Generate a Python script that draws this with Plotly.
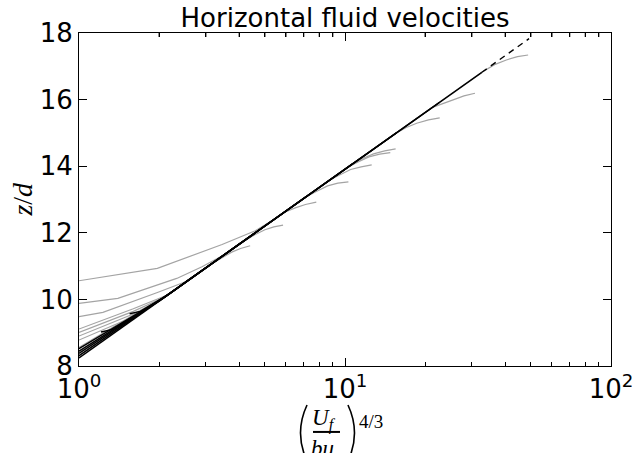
import math
import plotly.graph_objects as go

# ---------------- data ----------------
title_text = "Horizontal fluid velocities"
x_tick_vals = [1, 10, 100]
x_tick_text = ["10<sup>0</sup>", "10<sup>1</sup>", "10<sup>2</sup>"]
x_minor_vals = [2, 3, 4, 5, 6, 7, 8, 9, 20, 30, 40, 50, 60, 70, 80, 90]
y_tick_vals = [8, 10, 12, 14, 16, 18]
y_tick_text = ["8", "10", "12", "14", "16", "18"]

# grey: measured profiles (x = (Uf/(b u_tau))^(4/3), z/d)
grey_a_x = [1, 1.97, 3.45, 4.6, 5.4, 5.9, 6.5, 7.1, 7.8]
grey_a_z = [10.56, 10.93, 11.65, 12.06, 12.40, 12.61, 12.75, 12.85, 12.92]
grey_b_x = [1, 1.4, 2.33, 2.9, 3.5, 4.1, 4.6, 5.0, 5.4, 5.85]
grey_b_z = [9.88, 10.03, 10.63, 10.98, 11.33, 11.72, 11.95, 12.09, 12.18, 12.23]
grey_c_x = [1, 1.23, 1.96, 2.5, 3.1, 3.45, 3.75, 4.05, 4.4]
grey_c_z = [9.48, 9.61, 10.2, 10.52, 11.03, 11.26, 11.42, 11.53, 11.61]
grey_d_x = [1, 1.6, 2.15, 7.1, 7.8, 8.6, 9.4, 10.3]
grey_d_z = [9.11, 9.72, 10.13, 13.07, 13.24, 13.41, 13.49, 13.53]
grey_e_x = [1, 1.6, 2.1, 8.7, 9.5, 10.5, 11.5, 12.6]
grey_e_z = [9.01, 9.64, 10.07, 13.57, 13.73, 13.90, 13.98, 14.04]
grey_f_x = [1, 1.6, 2.05, 10.2, 11.2, 12.3, 13.5, 14.8]
grey_f_z = [8.90, 9.56, 10.01, 13.96, 14.13, 14.28, 14.36, 14.41]
grey_g_x = [1, 1.6, 2.0, 10.7, 11.7, 12.8, 14.1, 15.5]
grey_g_z = [8.78, 9.48, 9.95, 14.08, 14.24, 14.37, 14.46, 14.52]
grey_h_x = [1, 2.2, 15.6, 17.0, 18.6, 20.6, 22.7]
grey_h_z = [8.56, 10.19, 15.0, 15.16, 15.29, 15.39, 15.45]
grey_i_x = [1, 2.2, 21.2, 23.3, 25.5, 28.0, 30.8]
grey_i_z = [8.42, 10.19, 15.76, 15.89, 15.99, 16.11, 16.19]
grey_j_x = [1, 2.2, 32.7, 36.5, 40.4, 44.5, 48.8]
grey_j_z = [8.30, 10.19, 16.82, 17.05, 17.19, 17.29, 17.34]

# black: model lines
black_1_x = [1, 32.7]
black_1_z = [8.24, 16.82]
black_2_x = [1, 2.2, 22.7]
black_2_z = [8.31, 10.19, 15.92]
black_3_x = [1, 2.2, 15.6]
black_3_z = [8.38, 10.19, 15.0]
black_4_x = [1, 2.1, 10.7]
black_4_z = [8.45, 10.07, 14.08]
black_5_x = [1, 2.1, 7.1]
black_5_z = [8.52, 10.07, 13.07]
black_6_x = [1.21, 1.34, 2.0, 4.1]
black_6_z = [9.02, 9.10, 9.95, 11.72]
black_7_x = [1.55, 1.70, 2.15, 3.1]
black_7_z = [9.57, 9.64, 10.13, 11.03]
# dashed extrapolation
dash_x = [32.7, 49.2]
dash_z = [16.82, 17.83]

grey_series = [
    (grey_a_x, grey_a_z), (grey_b_x, grey_b_z), (grey_c_x, grey_c_z),
    (grey_d_x, grey_d_z), (grey_e_x, grey_e_z), (grey_f_x, grey_f_z),
    (grey_g_x, grey_g_z), (grey_h_x, grey_h_z), (grey_i_x, grey_i_z),
    (grey_j_x, grey_j_z),
]
black_series = [
    (black_1_x, black_1_z), (black_2_x, black_2_z), (black_3_x, black_3_z),
    (black_4_x, black_4_z), (black_5_x, black_5_z), (black_6_x, black_6_z),
    (black_7_x, black_7_z),
]

# ---------------- figure ----------------
fig = go.Figure()
for gx, gz in grey_series:
    fig.add_trace(go.Scatter(x=gx, y=gz, mode="lines",
                             line=dict(color="#a4a4a4", width=1.2),
                             showlegend=False, hoverinfo="skip"))
for bx, bz in black_series:
    fig.add_trace(go.Scatter(x=bx, y=bz, mode="lines",
                             line=dict(color="black", width=1.5),
                             showlegend=False, hoverinfo="skip"))
fig.add_trace(go.Scatter(x=dash_x, y=dash_z, mode="lines",
                         line=dict(color="black", width=1.4, dash="6px,5px"),
                         showlegend=False, hoverinfo="skip"))

X_RANGE = [0, 2]
tick_font = dict(family="DejaVu Sans", size=26, color="black")
fig.update_layout(
    width=632, height=453, autosize=False,
    margin=dict(l=79, r=21, t=33, b=87, pad=0, autoexpand=False),
    paper_bgcolor="white", plot_bgcolor="white",
    title=dict(text=title_text, x=0.5, xref="paper", xanchor="center",
               y=1 - 18 / 453, yref="container", yanchor="middle",
               font=dict(family="DejaVu Sans", size=26, color="black")),
    xaxis=dict(type="log", range=X_RANGE, tickvals=x_tick_vals, ticktext=x_tick_text,
               tickfont=tick_font, ticklabeloverflow="allow",
               ticks="inside", ticklen=8, tickwidth=1, tickcolor="black",
               showline=True, linecolor="black", linewidth=1, mirror="allticks",
               showgrid=False, zeroline=False,
               minor=dict(ticks="inside", ticklen=4, tickwidth=1, tickcolor="black",
                          dtick="D1", showgrid=False)),
    yaxis=dict(range=[8, 18], tickvals=y_tick_vals, ticktext=y_tick_text,
               tickfont=tick_font, ticks="inside", ticklen=8, tickwidth=1,
               tickcolor="black", showline=True, linecolor="black", linewidth=1,
               mirror="allticks", showgrid=False, zeroline=False),
)

# mirrored minor ticks on the top frame (plotly does not mirror minor ticks)
plot_h = 453 - 33 - 87
for v in x_minor_vals:
    xp = (math.log10(v) - X_RANGE[0]) / (X_RANGE[1] - X_RANGE[0])
    fig.add_shape(type="line", xref="paper", yref="paper", x0=xp, x1=xp,
                  y0=1, y1=1 - 4 / plot_h, line=dict(color="black", width=1))

# y label
fig.add_annotation(text="<i>z</i>/<i>d</i>", xref="paper", yref="paper",
                   x=-0.107, y=0.5, textangle=-90, showarrow=False,
                   xanchor="center", yanchor="middle",
                   font=dict(family="Liberation Serif", size=28, color="black"))

# x label: (U_f / (b u_tau))^(4/3)
serif = "Liberation Serif"
fig.add_annotation(text="<i>U</i><sub><i>f</i></sub>", xref="paper", yref="paper",
                   x=0.4605, y=-0.162, showarrow=False, xanchor="center", yanchor="middle",
                   font=dict(family=serif, size=23, color="black"))
fig.add_annotation(text="<i>bu</i><sub><i>τ</i></sub>", xref="paper", yref="paper",
                   x=0.4643, y=-0.252, showarrow=False, xanchor="center", yanchor="middle",
                   font=dict(family=serif, size=23, color="black"))
fig.add_annotation(text="4/3", xref="paper", yref="paper",
                   x=0.549, y=-0.168, showarrow=False, xanchor="center", yanchor="middle",
                   font=dict(family=serif, size=19, color="black"))
# fraction bar
fig.add_shape(type="line", xref="paper", yref="paper",
              x0=0.4398, x1=0.4906, y0=-0.198, y1=-0.198,
              line=dict(color="black", width=2))
# tall delimiters drawn as thin arcs (paper coords: x=(px-79)/532, y=(366-py)/333)
def px_x(px):
    return (px - 79) / 532
def px_y(py):
    return (366 - py) / 333
left_paren = "M {:.4f},{:.4f} Q {:.4f},{:.4f} {:.4f},{:.4f}".format(
    px_x(307), px_y(405), px_x(294), px_y(433), px_x(307), px_y(461))
right_paren = "M {:.4f},{:.4f} Q {:.4f},{:.4f} {:.4f},{:.4f}".format(
    px_x(348), px_y(405), px_x(361), px_y(433), px_x(348), px_y(461))
for p in (left_paren, right_paren):
    fig.add_shape(type="path", xref="paper", yref="paper", path=p,
                  line=dict(color="black", width=1.6))

fig.write_html("out.html")
